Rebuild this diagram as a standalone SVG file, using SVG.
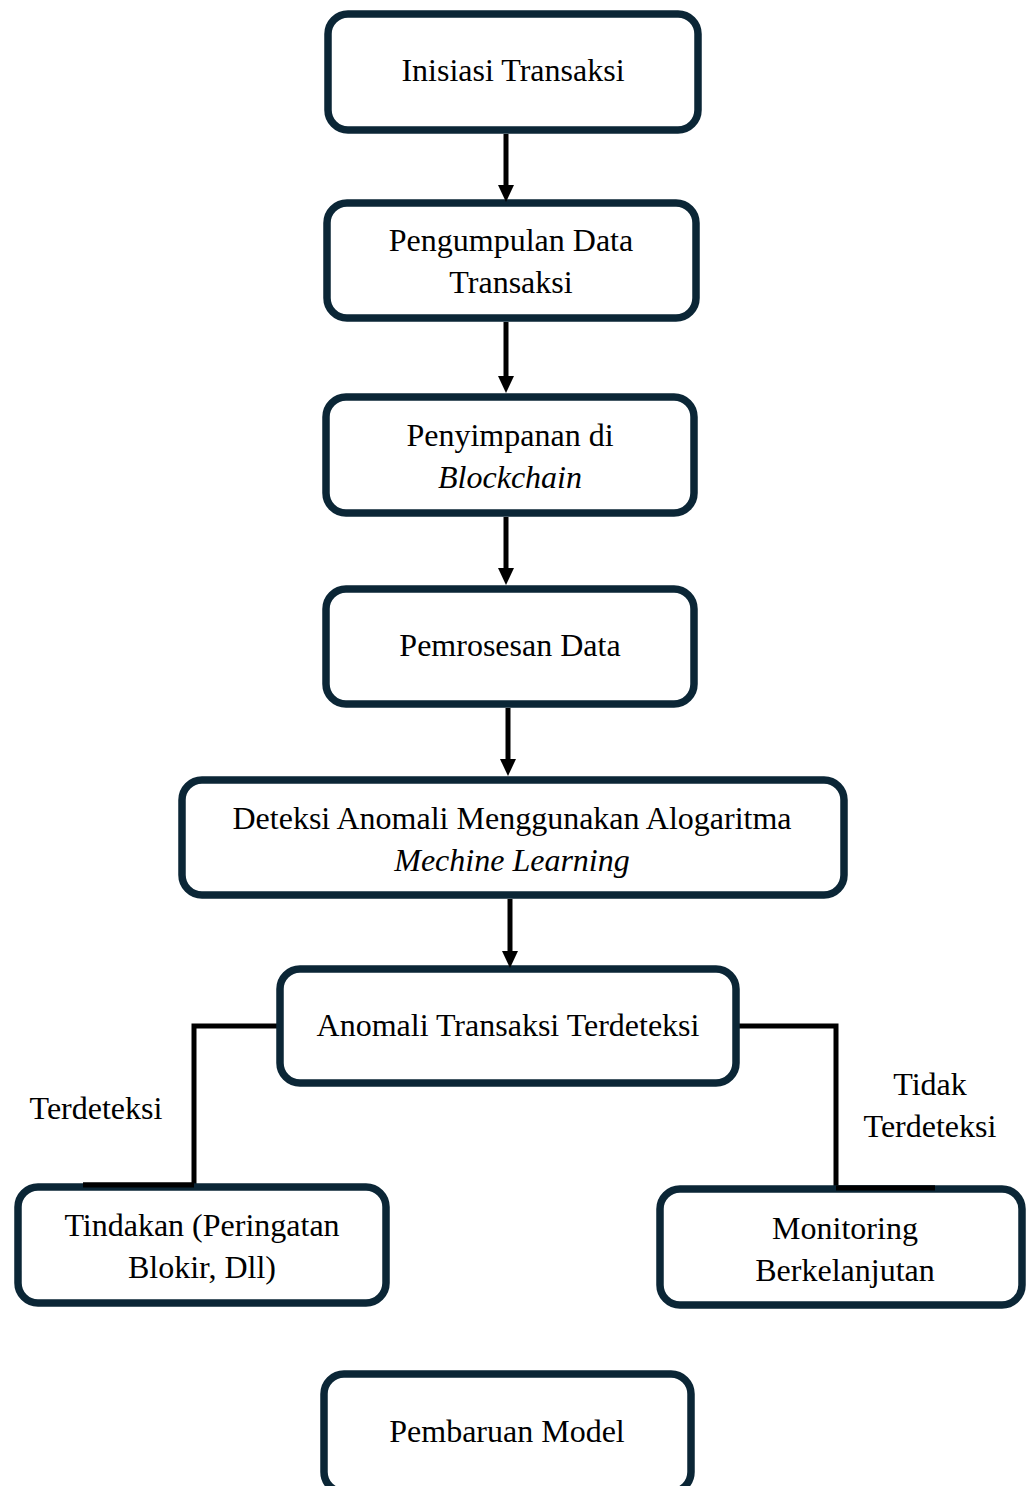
<svg xmlns="http://www.w3.org/2000/svg" width="1026" height="1486" viewBox="0 0 1026 1486">
<defs>
<style>
.box{fill:#fff;stroke:#0b2636;stroke-width:7.5}
.t{font-family:"Liberation Serif","Times New Roman",serif;font-size:32px;fill:#000;text-anchor:middle}
.i{font-style:italic}
.c{fill:none;stroke:#000;stroke-width:5}
.ah{fill:#000}
</style>
</defs>
<rect width="1026" height="1486" fill="#fff"/>
<g id="connectors">
<line class="c" x1="506" y1="134" x2="506" y2="190"/>
<line class="c" x1="506" y1="322" x2="506" y2="380"/>
<line class="c" x1="506" y1="517" x2="506" y2="572"/>
<line class="c" x1="508" y1="708" x2="508" y2="763"/>
<line class="c" x1="510" y1="899" x2="510" y2="955"/>
<path class="c" d="M277,1026 H194 V1185 H83"/>
<path class="c" d="M739,1026 H836 V1188 H935"/>
</g>
<g id="n1"><rect class="box" x="328" y="14" width="370" height="116" rx="20"/><text class="t" x="513" y="81">Inisiasi Transaksi</text></g>
<g id="n2"><rect class="box" x="327" y="203" width="369" height="115" rx="20"/><text class="t" x="511" y="251">Pengumpulan Data</text><text class="t" x="511" y="293">Transaksi</text></g>
<g id="n3"><rect class="box" x="326" y="397" width="368" height="116" rx="20"/><text class="t" x="510" y="446">Penyimpanan di</text><text class="t i" x="510" y="488">Blockchain</text></g>
<g id="n4"><rect class="box" x="326" y="589" width="368" height="115" rx="20"/><text class="t" x="510" y="656">Pemrosesan Data</text></g>
<g id="n5"><rect class="box" x="182" y="780" width="662" height="115" rx="20"/><text class="t" x="512" y="829">Deteksi Anomali Menggunakan Alogaritma</text><text class="t i" x="512" y="871">Mechine Learning</text></g>
<g id="n6"><rect class="box" x="280" y="969" width="456" height="114" rx="20"/><text class="t" x="508" y="1036">Anomali Transaksi Terdeteksi</text></g>
<g id="n7"><rect class="box" x="18" y="1187" width="368" height="116" rx="20"/><text class="t" x="202" y="1236">Tindakan (Peringatan</text><text class="t" x="202" y="1278">Blokir, Dll)</text></g>
<g id="n8"><rect class="box" x="660" y="1189" width="362" height="116" rx="20"/><text class="t" x="845" y="1239">Monitoring</text><text class="t" x="845" y="1281">Berkelanjutan</text></g>
<g id="n9"><rect class="box" x="324" y="1374" width="367" height="118" rx="20"/><text class="t" x="507" y="1442">Pembaruan Model</text></g>
<g id="arrowheads">
<path class="ah" d="M498,185 H514 L506,202 Z"/>
<path class="ah" d="M498,376 H514 L506,393 Z"/>
<path class="ah" d="M498,568 H514 L506,585 Z"/>
<path class="ah" d="M500,759 H516 L508,776 Z"/>
<path class="ah" d="M502,951 H518 L510,968 Z"/>
</g>
<g id="overlay">
<path class="c" d="M194,1185 H83"/>
<path class="c" d="M836,1188 H935"/>
</g>
<g id="labels">
<text class="t" x="96" y="1119">Terdeteksi</text>
<text class="t" x="930" y="1095">Tidak</text>
<text class="t" x="930" y="1137">Terdeteksi</text>
</g>
</svg>
